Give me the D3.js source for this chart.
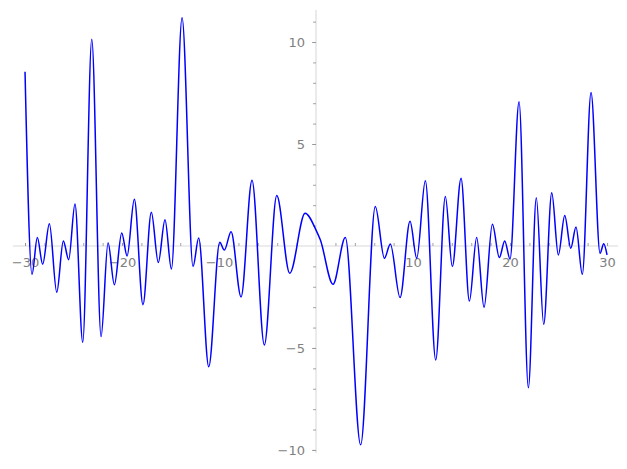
<!DOCTYPE html>
<html>
<head>
<meta charset="utf-8">
<script src="https://cdn.jsdelivr.net/npm/d3@7"></script>
<style>
  body { margin: 0; background: #fff; }
  svg { display: block; }
  .tick text { font-family: "DejaVu Sans", sans-serif; font-size: 13px; fill: #808080; }
  .tick line { stroke: #999; }
</style>
</head>
<body>
<div id="chart"></div>
<script>
// points (mostly its peaks and troughs)
var xs = [-30.0, -29.28, -28.73, -28.18, -27.49, -26.73, -26.05, -25.5, -24.85, -24.05,
  -23.12, -22.16, -21.44, -20.79, -20.03, -19.48, -18.73, -17.84, -16.98, -16.26,
  -15.57, -14.91, -13.81, -12.68, -12.1, -11.06, -9.93, -9.45, -8.76, -7.73,
  -6.6, -5.33, -4.05, -2.71, -1.13, 0.0, 0.45, 1.75, 3.02, 4.6,
  6.11, 7.05, 7.66, 8.66, 9.69, 10.38, 11.27, 12.34, 13.33, 14.05,
  14.95, 15.81, 16.56, 17.32, 18.18, 18.9, 19.45, 20.0, 20.93, 21.89,
  22.71, 23.47, 24.3, 24.98, 25.64, 26.26, 26.8, 27.45, 28.35, 29.28,
  29.66, 30.0];
var ys = [8.54, -1.39, 0.41, -0.90, 1.09, -2.27, 0.25, -0.67, 2.06, -4.72,
  10.13, -4.44, 0.16, -1.90, 0.64, -0.49, 2.29, -2.88, 1.65, -0.81,
  1.29, -1.13, 11.19, -1.01, 0.39, -5.92, 0.18, -0.20, 0.70, -2.50,
  3.22, -4.85, 2.47, -1.34, 1.60, 0.78, 0.29, -1.88, 0.41, -9.75,
  1.93, -0.60, 0.10, -2.53, 1.21, -0.60, 3.20, -5.59, 2.42, -1.01,
  3.32, -2.70, 0.42, -3.01, 1.06, -0.57, 0.25, -0.64, 7.07, -6.95,
  2.37, -3.84, 2.61, -0.44, 1.49, -0.11, 0.93, -1.39, 7.53, -0.36,
  0.11, -0.44];

var xMajor = [-30, -20, -10, 10, 20, 30];
var xMinor = d3.range(-30, 31, 2);
var yMajor = [-10, -5, 5, 10];
var yMinor = d3.range(-10, 12, 1);

var width = 627, height = 469;

var svg = d3.select("#chart")
  .append("svg")
    .attr("width", width)
    .attr("height", height);

// visible range of the axes
var x = d3.scaleLinear().domain([-31.24, 31.13]).range([13, 618]);
var y = d3.scaleLinear().domain([-10.15, 11.57]).range([453, 10]);

// axis lines through the origin
svg.append("line")
  .attr("x1", x.range()[0]).attr("x2", x.range()[1])
  .attr("y1", y(0)).attr("y2", y(0))
  .attr("stroke", "#e6e6e6").attr("stroke-width", 1.6);
svg.append("line")
  .attr("x1", x(0)).attr("x2", x(0))
  .attr("y1", y.range()[0]).attr("y2", y.range()[1])
  .attr("stroke", "#e6e6e6").attr("stroke-width", 1.6);

// x ticks
var gxMinor = svg.append("g")
  .attr("transform", "translate(0," + y(0) + ")")
  .call(d3.axisBottom(x).tickValues(xMinor.filter(function(d) { return d != 0; }))
    .tickSize(-3).tickFormat(""));
gxMinor.select(".domain").remove();

var gx = svg.append("g")
  .attr("transform", "translate(0," + y(0) + ")")
  .call(d3.axisBottom(x).tickValues(xMajor).tickSize(-3).tickPadding(12)
    .tickFormat(d3.format("d")));
gx.select(".domain").remove();

// y ticks
var gyMinor = svg.append("g")
  .attr("transform", "translate(" + x(0) + ",0)")
  .call(d3.axisLeft(y).tickValues(yMinor.filter(function(d) { return d != 0; }))
    .tickSize(3).tickFormat(""));
gyMinor.select(".domain").remove();

var gy = svg.append("g")
  .attr("transform", "translate(" + x(0) + ",0)")
  .call(d3.axisLeft(y).tickValues(yMajor).tickSize(4).tickPadding(7)
    .tickFormat(d3.format("d")));
gy.select(".domain").remove();

svg.selectAll(".tick line").attr("stroke-width", 0.9);

// the curve
var line = d3.line()
  .x(function(d, i) { return x(xs[i]); })
  .y(function(d, i) { return y(ys[i]); })
  .curve(d3.curveMonotoneX);

svg.append("path")
  .attr("d", line(xs))
  .attr("fill", "none")
  .attr("stroke", "#0000ff")
  .attr("stroke-width", 1.5);
</script>
</body>
</html>
